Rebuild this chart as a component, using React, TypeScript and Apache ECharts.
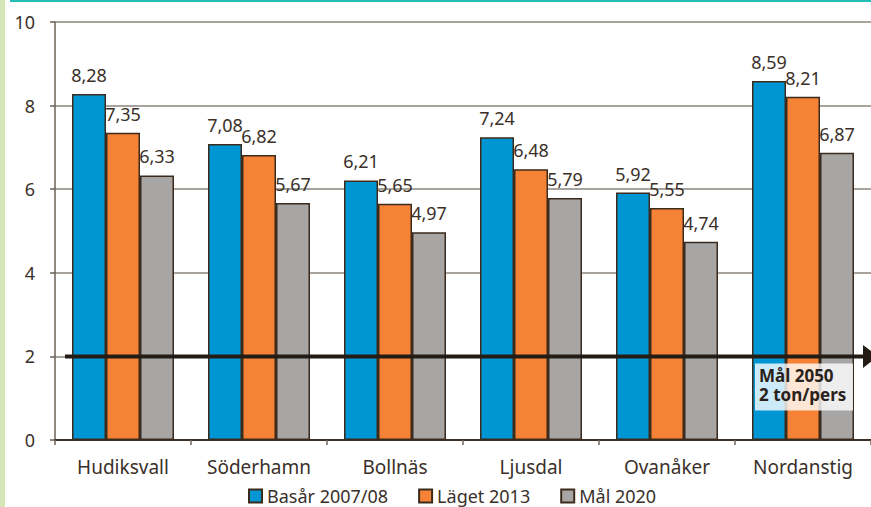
import React, { useEffect, useRef } from "react";
import * as echarts from "echarts";

const categories = ["Hudiksvall", "Söderhamn", "Bollnäs", "Ljusdal", "Ovanåker", "Nordanstig"];
const seriesNames = ["Basår 2007/08", "Läget 2013", "Mål 2020"];
const basar = [8.28, 7.08, 6.21, 7.24, 5.92, 8.59];
const laget = [7.35, 6.82, 5.65, 6.48, 5.55, 8.21];
const mal2020 = [6.33, 5.67, 4.97, 5.79, 4.74, 6.87];
const targetValue = 2;
const targetLines = ["Mål 2050", "2 ton/pers"];

const FONT = "'Noto Sans', Lato, sans-serif";
const TEXT = "#3a3029";
const colors = ["#0096d4", "#f68236", "#a7a6a4"];

export default function App() {
  const ref = useRef<HTMLDivElement>(null);
  useEffect(() => {
    document.body.style.margin = "0";
    const chart = echarts.init(ref.current!, null, { renderer: "svg" });
    const mk = (name: string, data: number[], color: string) => ({
      name,
      type: "bar",
      data,
      barGap: "0%",
      barCategoryGap: "25%",
      itemStyle: { color, borderColor: "#3b2b1c", borderWidth: 1.5 },
      label: {
        show: true,
        position: "top",
        distance: 10,
        fontFamily: FONT,
        fontSize: 18,
        color: TEXT,
        formatter: (p: any) => p.value.toFixed(2).replace(".", ","),
      },
    });
    chart.setOption({
      animation: false,
      textStyle: { fontFamily: FONT },
      grid: { left: 55, right: 0, top: 22, bottom: 67, containLabel: false },
      legend: {
        left: 243,
        top: 482,
        itemWidth: 13,
        itemHeight: 13,
        itemGap: 30,
        icon: "rect",
        textStyle: { fontFamily: FONT, fontSize: 18, color: TEXT, padding: [0, 0, 0, 0] },
        data: seriesNames,
      },
      xAxis: {
        type: "category",
        data: categories,
        axisLine: { lineStyle: { color: "#3b3128", width: 2 } },
        axisTick: { show: true, length: 5, lineStyle: { color: "#6b6258", width: 1.5 } },
        axisLabel: { fontFamily: FONT, fontSize: 19, color: TEXT, margin: 17 },
      },
      yAxis: {
        type: "value",
        min: 0,
        max: 10,
        interval: 2,
        axisLine: { show: true, lineStyle: { color: "#6b6258", width: 1.5 } },
        axisTick: { show: true, length: 5, lineStyle: { color: "#6b6258", width: 1.5 } },
        axisLabel: { fontFamily: FONT, fontSize: 18, color: TEXT, margin: 20 },
        splitLine: { show: true, lineStyle: { color: "#8c857c", width: 1.5 } },
      },
      series: [
        mk(seriesNames[0], basar, colors[0]),
        mk(seriesNames[1], laget, colors[1]),
        mk(seriesNames[2], mal2020, colors[2]),
      ],
    });
    const y = chart.convertToPixel({ yAxisIndex: 0 }, targetValue) as number;
    chart.setOption({
      graphic: [
        { type: "rect", shape: { x: 0, y: 0, width: 5, height: 507 }, style: { fill: "#d6e7b7" }, z: 100 },
        { type: "rect", shape: { x: 10, y: 0, width: 861, height: 2 }, style: { fill: "#26bdb6" }, z: 100 },
        {
          type: "line",
          shape: { x1: 65, y1: y, x2: 866, y2: y },
          style: { stroke: "#231c15", lineWidth: 4 },
          z: 100,
        },
        {
          type: "polygon",
          shape: { points: [[863, y - 11.5], [878, y], [863, y + 11.5]] },
          style: { fill: "#231c15" },
          z: 100,
        },
        {
          type: "rect",
          shape: { x: 755, y: y + 7, width: 98, height: 47 },
          style: { fill: "rgba(255,255,255,0.8)" },
          z: 100,
        },
        {
          type: "text",
          x: 759,
          y: y + 10,
          style: {
            text: targetLines.join("\n"),
            font: `bold 17px ${FONT}`,
            fill: "#2a211a",
            lineHeight: 19,
          },
          z: 101,
        },
      ],
    });
    return () => chart.dispose();
  }, []);
  return <div ref={ref} style={{ width: 871, height: 507 }} />;
}
